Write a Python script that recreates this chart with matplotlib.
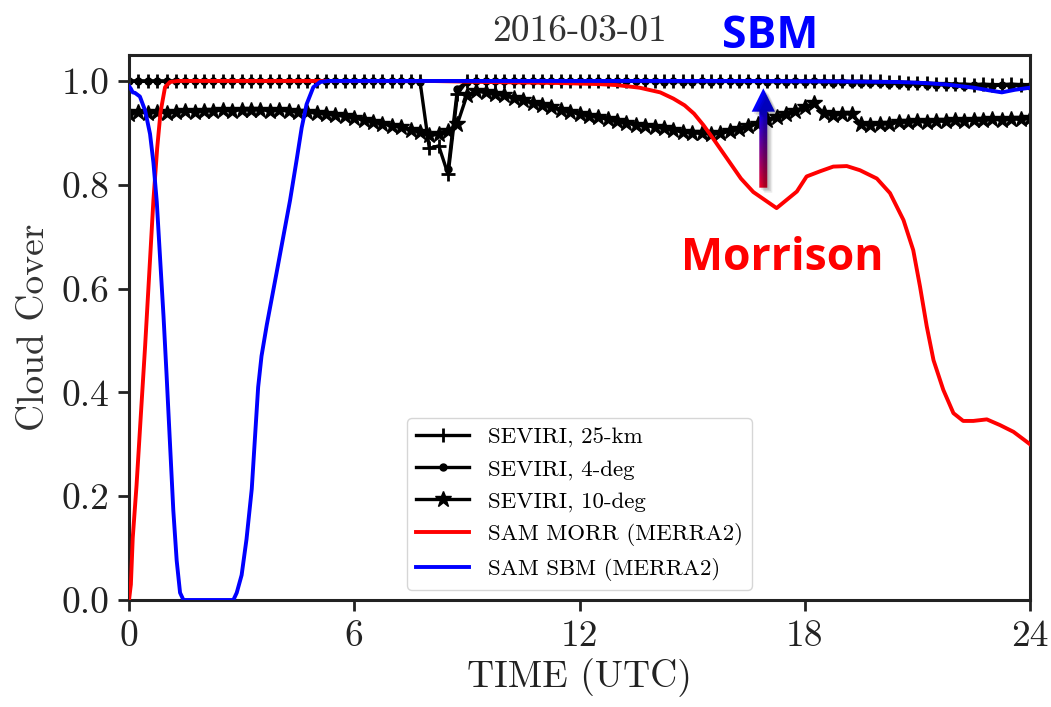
import numpy as np
import matplotlib
matplotlib.use("Agg")
import matplotlib.pyplot as plt
from matplotlib.patches import Polygon

plt.rcParams["font.family"] = "serif"
plt.rcParams["font.serif"] = ["cmr10", "DejaVu Serif"]
plt.rcParams["axes.formatter.use_mathtext"] = True

# ---------------------------------------------------------------- data
# SEVIRI observations every 15 minutes, 00:00 to 24:00 UTC
sev_time = np.arange(97) * 0.25

sev_25km = [
    1.0, 1.0, 1.0, 1.0, 1.0, 1.0, 1.0, 1.0,
    1.0, 1.0, 1.0, 1.0, 1.0, 1.0, 1.0, 1.0,
    1.0, 1.0, 1.0, 1.0, 1.0, 1.0, 1.0, 1.0,
    1.0, 1.0, 1.0, 1.0, 1.0, 1.0, 1.0, 1.0,
    0.87, 0.875, 0.82, 0.975, 1.0, 1.0, 1.0, 1.0,
    1.0, 1.0, 1.0, 1.0, 1.0, 1.0, 1.0, 1.0,
    1.0, 1.0, 1.0, 1.0, 1.0, 1.0, 1.0, 1.0,
    1.0, 1.0, 1.0, 0.999, 1.0, 0.999, 1.0, 1.0,
    1.0, 1.0, 1.0, 1.0, 1.0, 1.0, 1.0, 1.0,
    1.0, 1.0, 1.0, 1.0, 1.0, 0.999, 1.0, 0.999,
    0.999, 0.998, 0.998, 0.997, 0.997, 0.996, 0.995, 0.995,
    0.994, 0.994, 0.993, 0.994, 0.993, 0.993, 0.994, 0.993,
    0.993,
]

sev_4deg = [
    0.999, 1.0, 0.999, 1.0, 0.999, 1.0, 1.0, 0.999,
    1.0, 0.999, 1.0, 1.0, 0.999, 1.0, 0.999, 1.0,
    1.0, 0.999, 1.0, 0.999, 1.0, 1.0, 0.999, 1.0,
    0.999, 1.0, 0.999, 1.0, 1.0, 0.999, 0.999, 0.998,
    np.nan, np.nan, 0.83, 0.985, 0.998, 0.999, 1.0, 0.999,
    1.0, 0.999, 1.0, 1.0, 0.999, 1.0, 0.999, 1.0,
    0.999, 1.0, 0.999, 1.0, 1.0, 0.999, 1.0, 0.999,
    0.999, 0.998, 0.999, 0.998, 0.998, 0.999, 0.998, 0.999,
    0.999, 0.998, 0.999, 0.999, 0.998, 0.999, 0.998, 0.999,
    0.998, 0.999, 0.998, 0.997, 0.998, 0.997, 0.997, 0.996,
    0.996, 0.995, 0.995, 0.994, 0.994, 0.993, 0.993, 0.992,
    0.992, 0.991, 0.992, 0.991, 0.991, 0.992, 0.991, 0.991,
    0.991,
]

sev_10deg = [
    0.937, 0.940, 0.938, 0.941, 0.939, 0.940, 0.942, 0.941,
    0.943, 0.942, 0.944, 0.943, 0.945, 0.944, 0.945, 0.943,
    0.944, 0.942, 0.941, 0.940, 0.938, 0.937, 0.934, 0.932,
    0.929, 0.925, 0.921, 0.918, 0.914, 0.911, 0.906, 0.902,
    0.895, 0.897, 0.903, 0.918, 0.972, 0.980, 0.978, 0.975,
    0.972, 0.968, 0.963, 0.958, 0.954, 0.950, 0.945, 0.940,
    0.937, 0.933, 0.930, 0.926, 0.922, 0.919, 0.916, 0.914,
    0.912, 0.909, 0.905, 0.902, 0.900, 0.899, 0.898, 0.899,
    0.903, 0.908, 0.913, 0.918, 0.924, 0.930, 0.937, 0.943,
    0.950, 0.957, 0.938, 0.935, 0.937, 0.936, 0.917, 0.915,
    0.917, 0.918, 0.920, 0.921, 0.922, 0.921, 0.923, 0.922,
    0.924, 0.923, 0.925, 0.924, 0.926, 0.925, 0.927, 0.926,
    0.928,
]

# SAM simulations driven by MERRA2
morr_time = [0.0, 0.05, 0.1, 0.2, 0.31, 0.43, 0.54, 0.65, 0.75, 0.84,
             0.96, 1.09, 1.3, 2.0, 4.0, 6.0, 8.0, 9.5, 10.5, 11.5,
             12.5, 13.0, 13.6, 14.15, 14.5, 14.8, 15.05, 15.3, 15.55, 15.8,
             16.05, 16.3, 16.63, 16.99, 17.25, 17.52, 17.79, 18.05, 18.41, 18.76,
             19.12, 19.47, 19.92, 20.27, 20.63, 20.89, 21.07, 21.25, 21.43, 21.69,
             21.96, 22.22, 22.49, 22.85, 23.2, 23.56, 23.91, 24.0]
morr_cc = [0.0, 0.03, 0.12, 0.22, 0.35, 0.49, 0.63, 0.77, 0.87, 0.94,
           0.988, 0.998, 1.0, 1.0, 1.0, 1.0, 1.0, 0.998, 0.997, 0.996,
           0.994, 0.992, 0.987, 0.978, 0.966, 0.953, 0.937, 0.915, 0.89, 0.864,
           0.838, 0.812, 0.786, 0.768, 0.755, 0.771, 0.787, 0.816, 0.826, 0.835,
           0.836, 0.828, 0.812, 0.784, 0.732, 0.674, 0.604, 0.527, 0.462, 0.405,
           0.36, 0.345, 0.345, 0.348, 0.337, 0.324, 0.305, 0.30]

sbm_time = [0.0, 0.05, 0.1, 0.16, 0.29, 0.43, 0.56, 0.65, 0.74, 0.83,
            0.92, 1.0, 1.09, 1.18, 1.27, 1.36, 1.45, 2.0, 2.78, 2.87,
            3.0, 3.13, 3.27, 3.36, 3.44, 3.53, 3.67, 3.8, 3.93, 4.11,
            4.29, 4.47, 4.6, 4.73, 4.91, 5.09, 5.3, 8.0, 12.0, 16.0,
            19.0, 20.5, 21.2, 21.8, 22.5, 22.9, 23.25, 23.6, 24.0]
sbm_cc = [0.99, 0.985, 0.978, 0.977, 0.97, 0.943, 0.898, 0.843, 0.767, 0.656,
          0.546, 0.435, 0.304, 0.173, 0.076, 0.014, 0.0, 0.0, 0.0, 0.014,
          0.048, 0.117, 0.214, 0.318, 0.41, 0.47, 0.53, 0.58, 0.63, 0.70,
          0.77, 0.85, 0.91, 0.955, 0.988, 0.998, 1.0, 1.0, 1.0, 1.0,
          0.999, 0.998, 0.996, 0.993, 0.987, 0.982, 0.978, 0.983, 0.987]

x_ticks = [0, 6, 12, 18, 24]
x_ticklabels = ["0", "6", "12", "18", "24"]
y_ticks = [0.0, 0.2, 0.4, 0.6, 0.8, 1.0]
y_ticklabels = ["0.0", "0.2", "0.4", "0.6", "0.8", "1.0"]

# ---------------------------------------------------------------- figure
W, H = 1051, 707
fig = plt.figure(figsize=(W / 100, H / 100), dpi=100)
ax = fig.add_axes([129 / W, 1 - 600 / H, (1030 - 129) / W, (600 - 55) / H])

ax.plot(sev_time, sev_25km, color="black", lw=2.4, marker="+", ms=10, mew=2.0,
        label="SEVIRI, 25-km", zorder=2)
ax.plot(sev_time, sev_4deg, color="black", lw=2.4, marker=".", ms=10,
        label="SEVIRI, 4-deg", zorder=2)
ax.plot(sev_time, sev_10deg, color="black", lw=2.4, marker="*", ms=12,
        label="SEVIRI, 10-deg", zorder=2)
ax.plot(morr_time, morr_cc, color="#ff0000", lw=2.8,
        label="SAM MORR (MERRA2)", zorder=3)
ax.plot(sbm_time, sbm_cc, color="#0000ff", lw=2.8,
        label="SAM SBM (MERRA2)", zorder=4)

ax.set_xlim(0, 24)
ax.set_ylim(0, 1.05)
ax.set_xticks(x_ticks)
ax.set_xticklabels(x_ticklabels)
ax.set_yticks(y_ticks)
ax.set_yticklabels(y_ticklabels)
ax.tick_params(direction="out", length=8, width=2, labelsize=27, pad=6,
               colors="#222222")
for s in ax.spines.values():
    s.set_linewidth(2.2)
    s.set_color("#222222")

ax.set_xlabel("TIME (UTC)", fontsize=27, color="#222222", labelpad=4)
ax.set_ylabel("Cloud Cover", fontsize=27, color="#333333", labelpad=8)
ax.set_title("2016-03-01", fontsize=27, color="#333333", pad=10)

leg = ax.legend(loc="lower center", fontsize=16.5, numpoints=1,
                handlelength=2.3, borderaxespad=0.45, framealpha=0.8)

# ---------------------------------------------------------------- annotations
fig.text(770 / W, 1 - 48 / H, "SBM", color="#0000ff", fontsize=32,
         fontweight="bold", family="Open Sans", ha="center", va="baseline")
fig.text(782 / W, 1 - 270 / H, "Morrison", color="#ff0000", fontsize=32,
         fontweight="bold", family="Open Sans", ha="center", va="baseline")

# gradient arrow pointing from the Morrison curve up to the SBM curve
x0, x1, y0, y1 = 740, 790, 80, 200
aax = fig.add_axes([x0 / W, 1 - y1 / H, (x1 - x0) / W, (y1 - y0) / H])
aax.set_xlim(x0, x1)
aax.set_ylim(y1, y0)
aax.axis("off")
aax.patch.set_alpha(0)
arrow_xy = [(759.3, 187.7), (759.3, 111.7), (751.7, 111.7), (763.3, 88.3),
            (775.0, 111.7), (767.3, 111.7), (767.3, 187.7)]
for k, a in enumerate([0.10, 0.10, 0.08]):
    off = 2 + k * 1.5
    aax.add_patch(Polygon([(px + off, py + off) for px, py in arrow_xy],
                          closed=True, facecolor="black", edgecolor="none",
                          alpha=a))
grad = np.zeros((100, 1, 3))
frac = np.linspace(0, 1, 100)[:, None]
top = np.array([0.0, 0.0, 1.0])
bot = np.array([0.92, 0.0, 0.15])
g = np.clip((frac - 0.2) / 0.8, 0, 1)
grad[:, 0, :] = (1 - g) * top + g * bot
img = aax.imshow(grad, extent=(750, 776, 188, 88), aspect="auto",
                 interpolation="bilinear")
clip = Polygon(arrow_xy, closed=True, facecolor="none", edgecolor="none")
aax.add_patch(clip)
img.set_clip_path(clip)

fig.savefig("out.png", dpi=100)
